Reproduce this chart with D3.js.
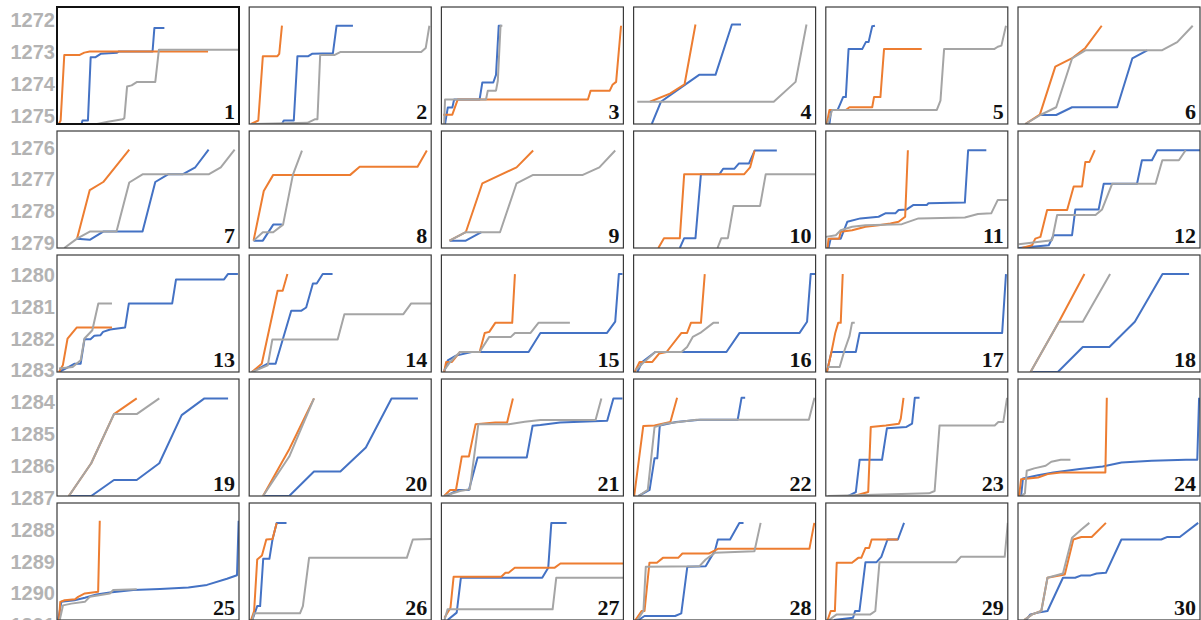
<!DOCTYPE html>
<html>
<head>
<meta charset="utf-8">
<script src="https://cdn.jsdelivr.net/npm/d3@7"></script>
<style>
  body { margin: 0; background: #fff; }
  svg { display: block; }
</style>
</head>
<body>
<div id="chart"></div>
<script>
// left side labels
var yTickLabels = [1272, 1273, 1274, 1275, 1276, 1277, 1278, 1279, 1280, 1281,
                   1282, 1283, 1284, 1285, 1286, 1287, 1288, 1289, 1290, 1291];

var panelIds = d3.range(1, 31);

// each panel: [x %, y %] (x of panel width, y from the bottom)
var blueSeries = [
  [[13.5,0],[14,3],[17,3],[18.5,57],[21,57],[24,60],[33,61],[34,62],[52.5,62],[53.5,82],[59,82]],
  [[18,0],[19,3],[24.5,3],[26.5,58],[32.5,58],[34.5,60],[46,60.5],[48,84],[57,84]],
  [[2,0],[3.5,14],[6,14],[7,21],[21,21],[22.5,35.5],[28.5,35.5],[30,42],[31.5,84],[33,84]],
  [[10,0],[15,19],[25,30],[36,42],[45,42],[54,85],[59,85]],
  [[2,0],[3,12],[6.5,12],[8,17.5],[9.5,23],[11,23],[12.5,64],[20,64],[22,70],[23.5,70],[25.5,83.5],[27,84]],
  [[12.3,7.7],[21,7.7],[29.7,14.3],[54.5,14.3],[62.8,56],[71,63]],
  [[11,8],[18,7],[25.4,14],[47,14],[54,56.4],[61,63],[69,63],[76,69],[83.3,84]],
  [[2.4,6.3],[7.5,6.3],[13.2,20],[18,20]],
  [[4.5,6.3],[13.4,6.3],[22,13.5]],
  [[25.4,0],[27.8,8.4],[34,8.4],[37,63.1],[47.2,63.1],[49.2,67.7],[55.3,67.7],[57.9,72.3],[63.4,72.3],[66.5,83.3],[78.7,83.3]],
  [[1.5,0],[2.7,8],[8.2,8],[11.8,22.4],[19,25.3],[29,26.7],[32.7,29.6],[38.2,29.6],[40,32.5],[44.5,33],[48.2,36.8],[55.5,36.8],[56.4,38.2],[76.4,38.8],[78.2,83.6],[88.2,83.6]],
  [[0.4,0],[16.9,2.3],[19.6,10.9],[29.7,10.9],[31.5,33],[44.3,33],[47.1,54.9],[65.4,54.9],[68.1,75],[73.6,75],[76.5,83.6],[100,83.6]],
  [[1.1,0],[6.5,4.3],[9.7,7.1],[13,7.1],[15.1,28],[18.4,28],[20.5,30.9],[23.8,31.4],[25.3,34.3],[29.2,36.3],[37.4,38],[39.5,58.6],[63.3,58.6],[65.4,79.1],[91.8,79.1],[93.9,83.7],[99.4,83.7]],
  [[1.5,0],[6.9,4.3],[10.2,7.1],[14.5,7.1],[23.1,52.3],[28.5,52.3],[31.3,55.1],[35,75.7],[37.1,75.7],[40.4,83.7],[45.8,83.7]],
  [[1.5,0],[3.5,10],[8,14],[16.6,17.1],[47.9,17.1],[54.4,33.4],[91,33.4],[95.5,43],[97.5,83.7],[99.5,83.7]],
  [[2.1,0],[4.7,8.6],[11.9,17.1],[51,17.1],[58.2,33.4],[91.2,33.4],[95.3,42.9],[97.3,83.7],[100,83.7]],
  [[0.6,0],[3.1,17.1],[16.5,17.1],[18.6,33.4],[96.9,33.4],[99,83.7]],
  [[7.9,0],[21.9,0],[35.6,21.4],[50.2,21.4],[64.2,42.9],[79.4,83.7],[94,83.7]],
  [[6.5,0],[18.8,0],[31.3,13.7],[43.8,13.7],[56.2,28],[68.5,69.1],[81,83.4],[94,83.4]],
  [[7.6,0],[22,0],[35.6,20.9],[50.1,20.9],[64.1,41.4],[78.2,83.4],[92.7,83.4]],
  [[2.6,0],[9,5.1],[15.1,5.1],[19.9,32.9],[46.9,32.9],[50.1,60],[54.4,60.6],[65.2,62.9],[91.1,64.3],[94.5,83.4],[99.5,83.4]],
  [[2.7,0],[8.8,5.2],[11.5,32.2],[13,32.2],[14.4,60.3],[23.3,63.2],[36.6,65.2],[57.2,65.2],[59.3,83.9],[61.3,83.9]],
  [[12.4,0],[16.5,3.4],[18.6,31],[30.9,31],[33.6,58],[44.3,59],[47.4,61.8],[48.9,83.9],[51.5,83.9]],
  [[1.7,0],[2.7,14.9],[11,17.8],[19.4,20.1],[33.9,23],[46.5,25.3],[56.9,28.7],[73.5,30.2],[92.3,31],[98.5,31],[99.5,83.9]],
  [[0.6,0],[2.4,15.5],[9.7,16.9],[15.3,19],[21.7,21.9],[29,23.6],[41.9,25.7],[56.6,26.5],[72.2,27.7],[82.4,30],[93.4,35.3],[98.9,38.2],[99.8,84.8]],
  [[1.7,0],[4.4,11.9],[6,11.9],[7.7,52.3],[11.1,52.3],[12.8,68.8],[15.1,83],[20.5,83]],
  [[3.4,0],[8.4,6.3],[10.7,36.1],[55.4,36.1],[58.7,44.6],[60.4,83],[68.8,83]],
  [[2.7,0],[6,3.4],[22.8,3.4],[26.2,5.7],[29.5,45.5],[39.6,46],[42.3,53.1],[44.6,58.8],[46.3,68.8],[53,68.8],[58.1,83],[60.4,83]],
  [[4.4,0],[15,2],[16.1,7.7],[18.5,7.7],[21.8,49.4],[27.9,49.4],[30.5,54],[33.9,68.8],[39.6,68.8],[43,83]],
  [[4.4,0],[6.8,4.8],[11.1,6.3],[16.2,7.7],[24.7,36.1],[31.4,36.1],[34.8,38.1],[39.9,38.1],[43.2,39.8],[48.3,40.3],[56.8,68.8],[78.7,68.8],[82.1,71],[88.9,71],[99,83]]
];

var orangeSeries = [
  [[1,0],[2,3],[4,59],[12.5,59],[15,61],[18,62],[83,62]],
  [[1,0],[5,3],[7.5,58],[15.5,58],[16.5,60],[18,84]],
  [[1,8],[6,8],[9,21],[80.5,21],[82,28.5],[92.5,28.5],[94,33.5],[96,36],[98.7,84]],
  [[9,19],[20,26],[28,34],[34,85]],
  [[0.5,0],[2,12],[11,12],[13,14.3],[25.5,14.3],[26.5,23],[30,23],[32,64],[52.7,64]],
  [[4,0],[12,8],[20.5,49],[29.5,56],[37,65],[46,84]],
  [[11,8],[18,49.5],[25.4,56.4],[39.7,84]],
  [[2.4,6.3],[8,48.7],[13.2,62.5],[55.5,62.5],[60.7,69.5],[92.5,69.5],[97.6,83.3]],
  [[4.5,6.3],[13.4,13.5],[22.5,55.3],[41.3,68.9],[50.4,83.3]],
  [[13.6,0],[16.7,8.4],[25.4,8.4],[27.8,63.1],[60.8,63.1],[64,68.9],[66.5,83.3]],
  [[1,0],[1.5,8],[7.3,8],[8.2,13.8],[14.5,15.2],[21.8,18.1],[29,19.5],[35.5,21],[40,22.4],[43.6,26.7],[45.1,83.6]],
  [[2.2,0],[7.7,2.3],[9.5,8],[12.3,9.5],[16,32.5],[27,32.5],[30.6,52.6],[35.2,52.6],[37,73.6],[39.3,73.6],[42.2,83.6]],
  [[1.1,0],[3.2,5.7],[5.8,28.6],[10.8,38],[30.2,38]],
  [[1.5,0],[6.9,7.1],[15.6,69.4],[18.4,69.4],[21,83.7]],
  [[1.5,0],[2.6,8.6],[5.8,8.6],[10.2,17.1],[21,17.1],[23.8,33.4],[26.3,34.3],[29.6,42],[38.9,42],[40.4,83.7]],
  [[0.6,0],[3.3,8.6],[10.3,8.6],[14,15.7],[18.1,17.1],[26.3,33.4],[29.4,33.4],[31.5,42],[37,42],[39.1,83.7]],
  [[0.6,0],[3.1,17.1],[5.2,33.4],[6.8,42],[8.2,42],[9.3,83.7]],
  [[6.9,0],[22.5,42.9],[36.5,83.7]],
  [[6.5,0],[18.8,28],[31.3,70],[43.8,83.4]],
  [[7.6,0],[22,40],[35.6,83.4]],
  [[1.5,0],[4.8,5.1],[8,5.1],[11.2,33.7],[15.1,33.7],[18.8,61.4],[29.6,62.9],[36.1,62.9],[39.3,83.4]],
  [[0.3,0],[0.6,3.4],[5.3,59.8],[11.5,60.3],[20.2,63.2],[23.9,83.9]],
  [[15.5,0],[23.3,3.4],[24.7,58.9],[33,60.3],[40.2,61.8],[41.2,66.1],[42.7,83.9]],
  [[0.6,0],[1.7,14.4],[11,15.8],[16.3,18.7],[23.5,20.1],[48,20.1],[48.8,83.9]],
  [[1.1,0],[1.8,15.5],[4.2,16.9],[9.9,17.8],[11.6,19.8],[15.3,22.7],[22.6,24.2],[23.5,84.8]],
  [[1,0],[2.7,7.7],[4.4,51.7],[7,55.1],[9.4,68.8],[12.8,69.3],[15.1,83]],
  [[1.7,2],[5,10.5],[6.7,36.9],[32.9,36.9],[35.2,40.3],[36.9,40.3],[40.3,44.6],[62.1,44.6],[65.4,48.3],[100,48.3]],
  [[1,0],[4.4,7.7],[6,7.7],[8.7,48.9],[12.8,48.9],[16.1,53.1],[24.5,53.1],[26.8,56.8],[41.3,56.8],[46.3,60.8],[96.6,60.8],[99.3,83]],
  [[1,0],[2.7,7.7],[5,7.7],[6,48.9],[14.4,48.9],[17.8,53.1],[19.5,53.1],[21.8,61.6],[23.8,61.6],[25.2,68.8],[39.6,68.8]],
  [[3.4,0],[7.8,4.8],[12.8,7.7],[16.2,36.1],[25.7,38.9],[30.4,68.8],[34.8,71],[40.5,71],[48.3,83]]
];

var graySeries = [
  [[15,0],[22,0],[28,2],[36,4],[37,5],[38.5,32],[41,33],[44,36],[54,36],[56,63.5],[100,63.5]],
  [[1,0],[32,1],[36,4],[37.5,4],[39,59],[47,59],[50,61.5],[94.5,61.5],[97,65],[99,84]],
  [[1.5,0],[2,21],[24.5,21],[25.5,28.5],[30,28.5],[31,37],[32.5,84],[33.5,84]],
  [[2,19],[77,19],[89,36],[95,85]],
  [[1,0],[3.5,12],[61,12],[63,20],[65,64],[92.5,64],[94.5,66],[96.5,67],[99,84]],
  [[4,0],[12.3,7.7],[21,14.3],[29.7,56],[37,63],[79,63],[87.5,70],[96,84]],
  [[4,0],[11,8],[18,14],[32.7,14],[39.7,56],[47,63],[83.3,63],[90,69],[97.6,84]],
  [[2.4,6.3],[7.5,13.5],[13.2,13.5],[18.6,20],[24,62.5],[29,83.3]],
  [[4.5,6.3],[13.4,13.5],[32.2,13.5],[41.3,55.3],[50.4,62.5],[77.7,62.5],[86.8,68.9],[95.5,83.3]],
  [[46.1,0],[48.2,8.4],[51.8,8.4],[54.9,36],[69.5,36],[72.6,63.1],[100,63.1]],
  [[0,9.5],[5.5,10.9],[8.2,15.2],[14.5,18.1],[21.8,19.5],[41.8,20.4],[50.9,25.3],[76.4,26.1],[83.6,29],[90.9,29.6],[94.5,41.1],[100,41.1]],
  [[0.4,3.2],[18.7,6.6],[21.5,28.2],[42.6,28.2],[46.2,33],[51.7,54.9],[75.6,54.9],[79.3,75],[88.4,75],[92.1,83.6]],
  [[1.1,2.9],[8.6,4.3],[13,10],[15.1,28.6],[19.4,35.7],[22.7,58.6],[30.2,58.6]],
  [[1.5,0],[10.2,5.7],[12.7,27.7],[48.6,27.7],[52.3,49.4],[84.7,49.4],[89,58.6],[100,58.6]],
  [[1.5,1.4],[4.8,8.6],[10.2,17.1],[21,17.1],[26.3,30],[38.2,30],[40.4,33.4],[49,33.4],[53.3,42],[70.6,42]],
  [[1.2,1.4],[4.7,7.1],[11.9,17.1],[26.3,17.1],[29.4,21.4],[32.5,30],[36.6,33.4],[43.8,42],[46.9,42]],
  [[1,4.3],[7.6,4.3],[10.3,18.6],[13,30.6],[14.4,42],[15.9,42]],
  [[6.9,0],[22.5,42.9],[35.6,42.9],[50.6,83.7]],
  [[6.5,0],[18.8,28],[31.3,70],[43.8,70],[56.2,83.4]],
  [[7.6,0],[22,33.7],[35.6,83.4]],
  [[1.5,0],[10.2,4.3],[15.6,5.7],[20.3,61.4],[37.1,61.4],[45.8,63.4],[54.4,64.9],[84.7,64.9],[87.9,83.4]],
  [[2.7,0],[7.8,5.2],[11.5,58.9],[17.1,61.8],[34.6,65.2],[96.3,65.2],[99.4,83.9]],
  [[1,0],[56.7,2.3],[59.8,4.3],[62.5,60.3],[92.8,60.3],[94.8,63.2],[97.5,63.2],[99.6,83.9]],
  [[1.7,0],[3.8,2.3],[4.8,21.6],[8.9,23.6],[15.2,25.9],[18.3,29.3],[23.5,31],[28.8,31]],
  [[1.5,0],[3.3,12.5],[7.9,14],[15.3,15.5],[18,19.8],[29,22.7],[30.9,25.7],[43.8,26.2]],
  [[1.7,0],[2.7,5.7],[27.9,5.7],[29.5,11.9],[32.9,53.1],[86.6,53.1],[89.9,68.8],[100,69.3]],
  [[1.7,0],[3.4,9.1],[61.1,9.1],[63.1,36.1],[100,36.1]],
  [[2,0],[5.4,7.7],[6.7,45.5],[36.2,46],[39.6,51.7],[44.6,57.4],[66.4,58.8],[69.8,83]],
  [[1.7,0],[6,4.8],[24.5,4.8],[27.2,7.7],[29.5,49.4],[71.5,49.4],[74.2,54],[98.3,54],[100,83]],
  [[3.4,0],[7.8,4.8],[12.8,7.7],[16.2,36.1],[24.7,39.8],[29.7,70.2],[34.8,77.3],[39.2,83]]
];

var svgWidth = 1201, svgHeight = 620;
var nCols = 6, nRows = 5;
var panelW = 182, panelH = 117;

var svg = d3.select("#chart")
  .append("svg")
    .attr("width", svgWidth)
    .attr("height", svgHeight);

// panel placement
var colX = d3.scaleLinear().domain([0, nCols - 1]).range([57, 1018]);
var rowY = d3.scaleLinear().domain([0, nRows - 1]).range([7, 503]);

// tall label axis running down the left edge
var labelY = d3.scalePoint()
  .domain(yTickLabels)
  .range([20, 625]);

svg.append("g")
  .selectAll("text")
  .data(yTickLabels)
  .enter().append("text")
    .attr("x", 55)
    .attr("y", function(d) { return labelY(d); })
    .attr("dy", "0.36em")
    .attr("text-anchor", "end")
    .style("font-family", "'Liberation Sans', Arial, sans-serif")
    .style("font-weight", "bold")
    .style("font-size", "20px")
    .style("fill", "#b3b3b3")
    .text(function(d) { return d; });

var x = d3.scaleLinear().domain([0, 100]).range([0, panelW]);
var y = d3.scaleLinear().domain([0, 100]).range([panelH, 0]);

var line = d3.line()
  .x(function(d) { return x(d[0]); })
  .y(function(d) { return y(d[1]); });

var seriesList = [
  { data: blueSeries, color: "#4472c4" },
  { data: orangeSeries, color: "#ed7d31" },
  { data: graySeries, color: "#a5a5a5" }
];

var panels = svg.selectAll("g.panel")
  .data(panelIds)
  .enter().append("g")
    .attr("class", "panel")
    .attr("transform", function(d, i) {
      return "translate(" + colX(i % nCols) + "," + rowY(Math.floor(i / nCols)) + ")";
    });

panels.append("clipPath")
    .attr("id", function(d) { return "clip" + d; })
  .append("rect")
    .attr("width", panelW)
    .attr("height", panelH);

panels.append("rect")
    .attr("width", panelW)
    .attr("height", panelH)
    .style("fill", "#fff");

seriesList.forEach(function(s) {
  panels.append("path")
    .attr("clip-path", function(d) { return "url(#clip" + d + ")"; })
    .attr("d", function(d, i) { return line(s.data[i]); })
    .style("fill", "none")
    .style("stroke", s.color)
    .style("stroke-width", 2)
    .style("stroke-linejoin", "round");
});

panels.append("rect")
    .attr("width", panelW)
    .attr("height", panelH)
    .style("fill", "none")
    .style("stroke", function(d) { return d === 1 ? "#111" : "#3a3a3a"; })
    .style("stroke-width", function(d) { return d === 1 ? 2 : 1.2; });

panels.append("text")
    .attr("x", panelW - 4)
    .attr("y", panelH - 5)
    .attr("text-anchor", "end")
    .style("font-family", "'Liberation Serif', 'Times New Roman', serif")
    .style("font-weight", "bold")
    .style("font-size", "22px")
    .style("fill", "#111")
    .text(function(d) { return d; });
</script>
</body>
</html>
